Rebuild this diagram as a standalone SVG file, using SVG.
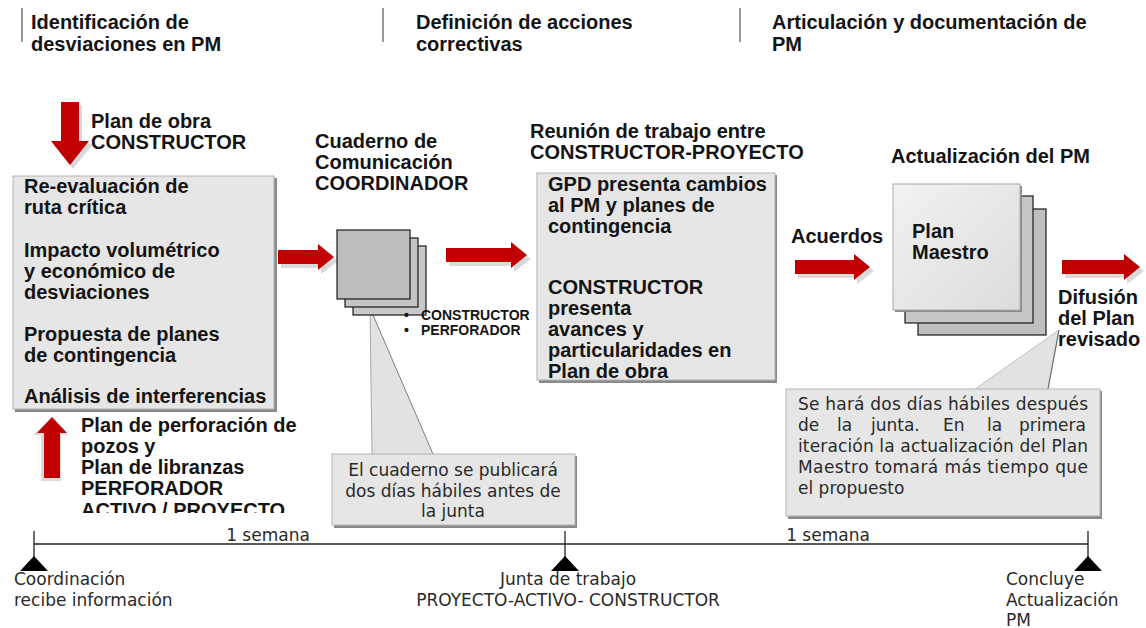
<svg xmlns="http://www.w3.org/2000/svg" width="1146" height="628" viewBox="0 0 1146 628">
<style>
.b{font-family:"Liberation Sans",Arial,sans-serif;font-weight:bold;font-size:20px;fill:#141414}
.bs{font-family:"Liberation Sans",Arial,sans-serif;font-weight:bold;font-size:14px;fill:#141414}
.r{font-family:"DejaVu Sans",Verdana,sans-serif;font-size:17px;fill:#2a2a2a}
.hl{stroke:#555;stroke-width:1.2}
.box{fill:#e6e6e6;stroke:#b4b4b4;stroke-width:1}
.shd{fill:#8a8a8a}
.arr{fill:#c00000}
.ash{fill:#d4d4d4;opacity:0.85}
.sq{stroke:#1a1a1a;stroke-width:1.2}
.tl{stroke:#222;stroke-width:1.3;fill:none}
.tri{fill:#000}
</style>
<defs>
<linearGradient id="pm" x1="0" y1="0" x2="1" y2="1">
<stop offset="0" stop-color="#f2f2f2"/>
<stop offset="1" stop-color="#dcdcdc"/>
</linearGradient>
<clipPath id="clipBottom"><rect x="0" y="0" width="300" height="513"/></clipPath>
</defs>

<g id="headers">
<line class="hl" x1="22" y1="8" x2="22" y2="42"/>
<text class="b" x="31" y="29">Identificación de</text>
<text class="b" x="31" y="51">desviaciones en PM</text>
<line class="hl" x1="383" y1="8" x2="383" y2="42"/>
<text class="b" x="416" y="29">Definición de acciones</text>
<text class="b" x="416" y="51">correctivas</text>
<line class="hl" x1="740" y1="8" x2="740" y2="42"/>
<text class="b" x="772" y="29">Articulación y documentación de</text>
<text class="b" x="772" y="51">PM</text>
</g>

<g id="connectors">
<path class="ash" d="M64,105 H82 V144 H93 L73,169 L53,144 H64 Z"/>
<path class="arr" d="M61,102 H79 V141 H89 L70,165 L51,141 H61 Z"/>
<path class="ash" d="M41,481 V435 H33 L50,419 L68,435 H61 V481 Z"/>
<path class="arr" d="M44,478 V433 H37 L52,417 L67,433 H60 V478 Z"/>
<path class="ash" d="M281,254 H321 V248 L338,261 L321,274 V268 H281 Z"/>
<path class="arr" d="M278,250 H318 V244 L334,257 L318,270 V264 H278 Z"/>
<path class="ash" d="M449,252 H514 V246 L531,259 L514,272 V266 H449 Z"/>
<path class="arr" d="M446,248 H511 V242 L527,255 L511,268 V262 H446 Z"/>
<path class="ash" d="M798,264 H857 V258 L874,271 L857,284 V278 H798 Z"/>
<path class="arr" d="M795,260 H854 V254 L870,267 L854,280 V274 H795 Z"/>
<path class="ash" d="M1065,264 H1127 V258 L1144,271 L1127,284 V278 H1065 Z"/>
<path class="arr" d="M1062,260 H1124 V254 L1140,267 L1124,280 V274 H1062 Z"/>
</g>

<g id="input-top">
<text class="b" x="91" y="128">Plan de obra</text>
<text class="b" x="91" y="149">CONSTRUCTOR</text>
</g>

<g id="left-box">
<rect class="shd" x="15" y="178" width="262" height="234"/>
<rect class="box" x="13" y="176" width="261" height="233"/>
<text class="b" x="24" y="193">Re-evaluación de</text>
<text class="b" x="24" y="214">ruta crítica</text>
<text class="b" x="24" y="257">Impacto volumétrico</text>
<text class="b" x="24" y="278">y económico de</text>
<text class="b" x="24" y="299">desviaciones</text>
<text class="b" x="24" y="341">Propuesta de planes</text>
<text class="b" x="24" y="362">de contingencia</text>
<text class="b" x="24" y="403">Análisis de interferencias</text>
</g>

<g id="input-bottom" clip-path="url(#clipBottom)">
<text class="b" x="81" y="432">Plan de perforación de</text>
<text class="b" x="81" y="453">pozos y</text>
<text class="b" x="81" y="474">Plan de libranzas</text>
<text class="b" x="81" y="495">PERFORADOR</text>
<text class="b" x="81" y="517">ACTIVO / PROYECTO</text>
</g>

<g id="callout-cuaderno">
<polygon points="372,454 370,308 433,454" fill="#e2e2e2"/>
<line x1="372" y1="454" x2="370" y2="308" stroke="#a8a8a8" stroke-width="1"/>
<line x1="433" y1="454" x2="370" y2="308" stroke="#808080" stroke-width="1"/>
<rect class="shd" x="334" y="456" width="243" height="72"/>
<rect class="box" x="332" y="454" width="243" height="71"/>
<text class="r" x="453" y="476" text-anchor="middle">El cuaderno se publicará</text>
<text class="r" x="453" y="497" text-anchor="middle">dos días hábiles antes de</text>
<text class="r" x="453" y="517" text-anchor="middle">la junta</text>
</g>

<g id="cuaderno">
<text class="b" x="315" y="148">Cuaderno de</text>
<text class="b" x="315" y="169">Comunicación</text>
<text class="b" x="315" y="190">COORDINADOR</text>
<rect class="sq" x="353" y="246" width="73" height="69" fill="#c8c8c8"/>
<rect class="sq" x="345" y="238" width="73" height="69" fill="#c4c4c4"/>
<rect class="sq" x="337" y="230" width="73" height="69" fill="#bdbdbd"/>
<text class="bs" x="404" y="320">•</text>
<text class="bs" x="421" y="320">CONSTRUCTOR</text>
<text class="bs" x="404" y="335">•</text>
<text class="bs" x="421" y="335">PERFORADOR</text>
</g>

<g id="reunion">
<text class="b" x="530" y="138">Reunión de trabajo entre</text>
<text class="b" x="530" y="159">CONSTRUCTOR-PROYECTO</text>
<rect class="shd" x="539" y="175" width="238" height="208"/>
<rect class="box" x="537" y="173" width="238" height="207"/>
<text class="b" x="548" y="191">GPD presenta cambios</text>
<text class="b" x="548" y="212">al PM y planes de</text>
<text class="b" x="548" y="233">contingencia</text>
<text class="b" x="548" y="294">CONSTRUCTOR</text>
<text class="b" x="548" y="315">presenta</text>
<text class="b" x="548" y="336">avances y</text>
<text class="b" x="548" y="357">particularidades en</text>
<text class="b" x="548" y="378">Plan de obra</text>
</g>

<g id="acuerdos">
<text class="b" x="791" y="243">Acuerdos</text>
</g>

<g id="plan-maestro">
<text class="b" x="891" y="163">Actualización del PM</text>
<rect class="sq" x="918" y="209" width="128" height="126" fill="#bfbfbf"/>
<rect class="sq" x="905" y="196" width="128" height="127" fill="#c6c6c6"/>
<rect class="shd" x="895" y="186" width="127" height="126"/>
<rect x="893" y="184" width="127" height="126" fill="url(#pm)" stroke="#aaa" stroke-width="1"/>
<text class="b" x="912" y="238">Plan</text>
<text class="b" x="912" y="259">Maestro</text>
</g>

<g id="difusion">
<text class="b" x="1058" y="304">Difusión</text>
<text class="b" x="1058" y="325">del Plan</text>
<text class="b" x="1058" y="346">revisado</text>
</g>

<g id="callout-actualizacion">
<polygon points="975,389 1059,330 1048,389" fill="#e2e2e2"/>
<line x1="975" y1="389" x2="1059" y2="330" stroke="#c0c0c0" stroke-width="1"/>
<line x1="1048" y1="389" x2="1059" y2="330" stroke="#666" stroke-width="1.2"/>
<rect class="shd" x="788" y="391" width="314" height="128"/>
<rect class="box" x="786" y="389" width="314" height="127"/>
<text class="r" x="798" y="410" textLength="290" lengthAdjust="spacing">Se hará dos días hábiles después</text>
<text class="r" y="431"><tspan x="798">de</tspan><tspan x="837">la</tspan><tspan x="871">junta.</tspan><tspan x="943">En</tspan><tspan x="987">la</tspan><tspan x="1019">primera</tspan></text>
<text class="r" x="798" y="452" textLength="290" lengthAdjust="spacing">iteración la actualización del Plan</text>
<text class="r" x="798" y="473" textLength="290" lengthAdjust="spacing">Maestro tomará más tiempo que</text>
<text class="r" x="798" y="494">el propuesto</text>
</g>

<g id="timeline">
<line class="tl" x1="34" y1="544" x2="1088" y2="544"/>
<line class="tl" x1="34" y1="531" x2="34" y2="560"/>
<line class="tl" x1="565" y1="531" x2="565" y2="560"/>
<line class="tl" x1="1088" y1="531" x2="1088" y2="560"/>
<polygon class="tri" points="34,556 20,571 48,571"/>
<polygon class="tri" points="565,556 551,571 579,571"/>
<polygon class="tri" points="1088,556 1074,571 1102,571"/>
<text class="r" x="268" y="541" text-anchor="middle">1 semana</text>
<text class="r" x="828" y="541" text-anchor="middle">1 semana</text>
<text class="r" x="14" y="585">Coordinación</text>
<text class="r" x="14" y="606">recibe información</text>
<text class="r" x="568" y="585" text-anchor="middle">Junta de trabajo</text>
<text class="r" x="568" y="606" text-anchor="middle">PROYECTO-ACTIVO- CONSTRUCTOR</text>
<text class="r" x="1006" y="585">Concluye</text>
<text class="r" x="1006" y="606">Actualización</text>
<text class="r" x="1006" y="626">PM</text>
</g>
</svg>
